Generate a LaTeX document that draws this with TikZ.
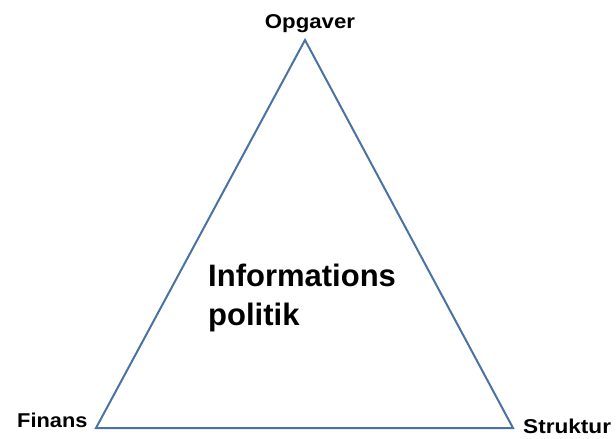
\documentclass[tikz,border=0pt]{standalone}
\usepackage{fontspec}
\setmainfont{Liberation Sans}
\usepackage{xcolor}
\definecolor{edgeblue}{HTML}{4A72A2}

\begin{document}
\begin{tikzpicture}[x=1pt,y=-1pt,
              corner/.style = {font=\fontsize{20}{22}\selectfont\bfseries, inner sep=0pt},
              side/.style = {draw=edgeblue, line width=2pt, line join=miter}]
              \useasboundingbox (0,0) rectangle (616,439);
              \coordinate (top) at (305,40);
              \coordinate (left) at (96,428);
              \coordinate (right) at (513,428);
              \draw[side] (top) -- (right) -- (left) -- cycle;
              \node[corner, anchor=base] (opgaver) at (310,28) {\scalebox{1.11}[1]{Opgaver}};
              \node[corner, anchor=base west] (finans) at (17,427) {\scalebox{1.09}[1]{Finans}};
              \node[corner, anchor=base west] (struktur) at (523,433) {\scalebox{1.13}[1]{Struktur}};
              \node[anchor=north west, inner sep=0pt, align=left,
                    font=\fontsize{31}{39}\selectfont\bfseries] (info) at (208,264)
                    {Informations\\politik};
            \end{tikzpicture}
\end{document}
